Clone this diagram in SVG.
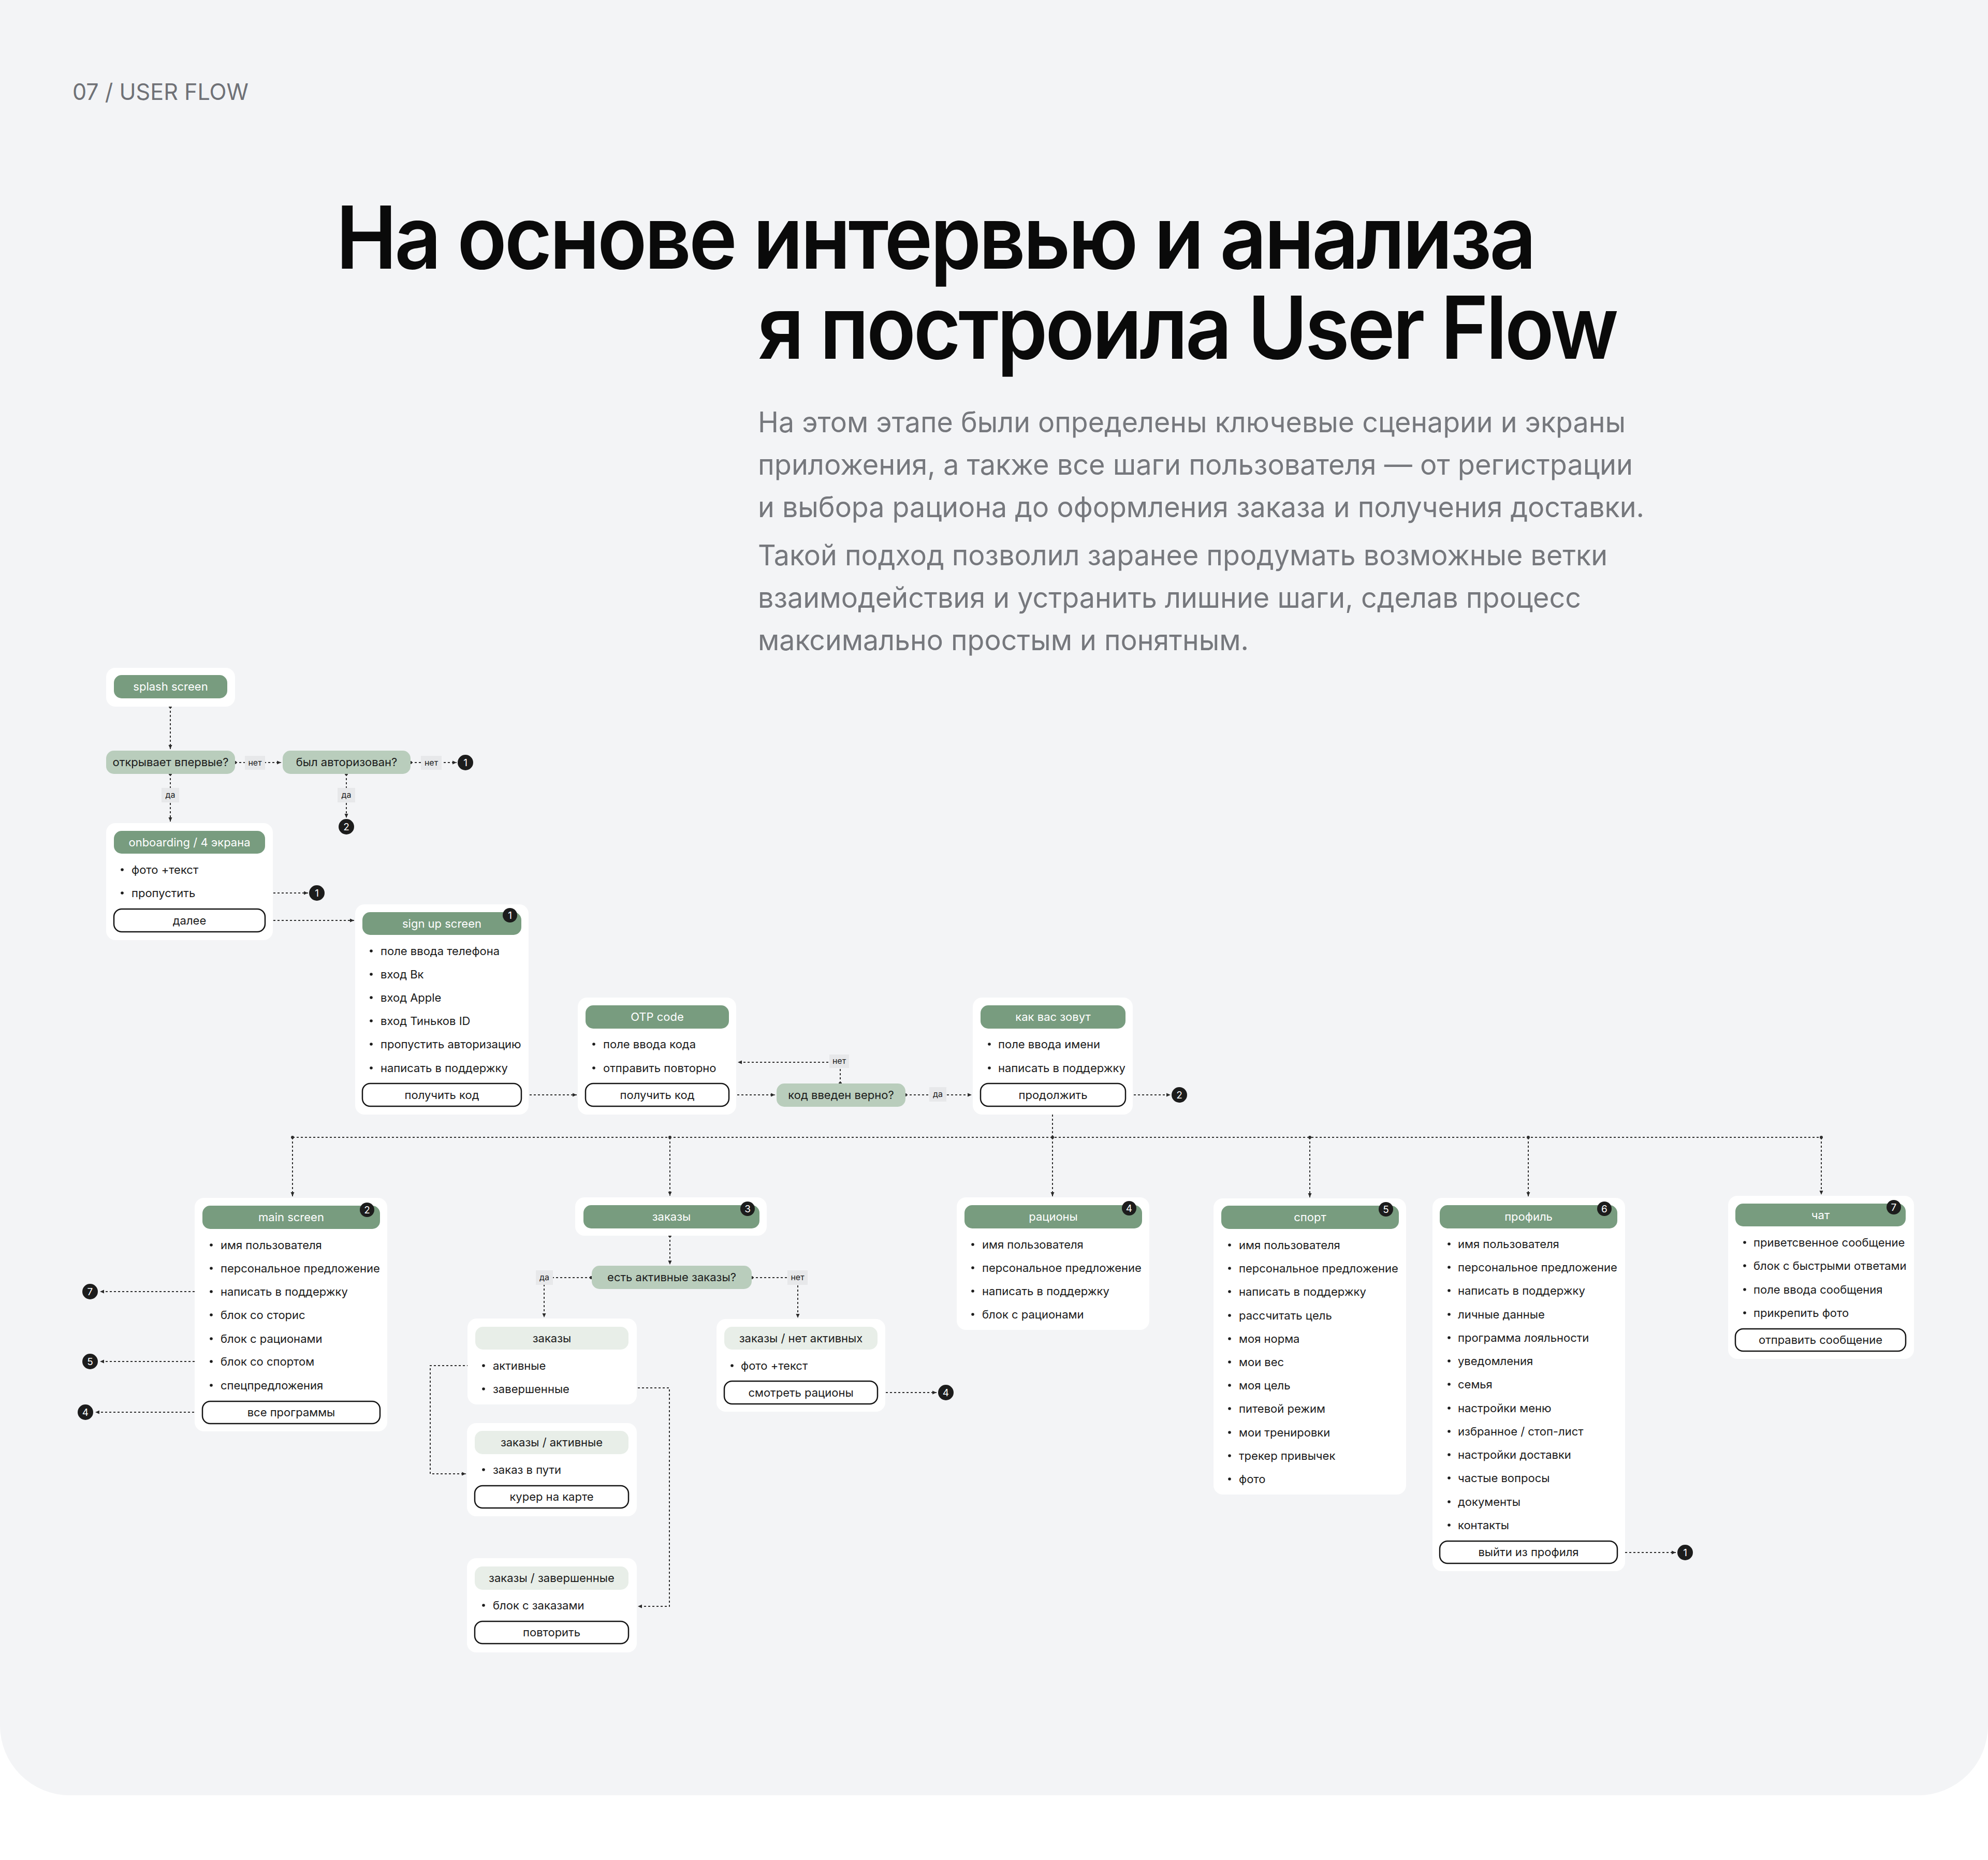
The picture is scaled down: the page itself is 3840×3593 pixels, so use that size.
<svg xmlns="http://www.w3.org/2000/svg" width="3840" height="3593" viewBox="0 0 3840 3593">
<defs>
<marker id="ah" viewBox="0 0 8 8" refX="8" refY="4" markerWidth="8" markerHeight="8" markerUnits="userSpaceOnUse" orient="auto"><path d="M0,0.5 L8,4 L0,7.5 z" fill="#2a2a2a"/></marker>
<style>
text{font-family:Inter,"Noto Sans","Liberation Sans",sans-serif}
.card{fill:#ffffff}
.pill{fill:#789c7f}
.dec{fill:#b9cdbc}
.lp{fill:#e8eee8}
.btn{fill:#ffffff;stroke:#151515;stroke-width:2.5}
.pt{fill:#ffffff;font-size:22px;text-anchor:middle}
.dt{fill:#1b1b1b;font-size:22px;text-anchor:middle}
.li{fill:#1b1b1b;font-size:22px}
.bu{fill:#1b1b1b}
.bd{fill:#1c1c1c}
.bn{fill:#ffffff;font-size:19px;text-anchor:middle}
.con{fill:none;stroke:#2e2e2e;stroke-width:2;stroke-dasharray:4 4}
.ar{marker-end:url(#ah)}
.dot{fill:#2e2e2e}
.lb{fill:#e7e8ea}
.lt{fill:#1b1b1b;font-size:16px;text-anchor:middle}
.ttl{font-size:168px;font-weight:600;fill:#0a0a0a;letter-spacing:-5px}
</style>
</defs>
<rect x="0" y="0" width="3840" height="3593" fill="#ffffff"/>
<path d="M0,0 H3840 V3333 A135,135 0 0 1 3705,3468 H135 A135,135 0 0 1 0,3333 Z" fill="#f3f4f6"/>

<g id="header">
<text x="140" y="193" font-size="44" fill="#6f7176" textLength="340" lengthAdjust="spacingAndGlyphs">07 / USER FLOW</text>
<text class="ttl" x="649" y="519" textLength="2314" lengthAdjust="spacingAndGlyphs">На основе интервью и анализа</text>
<text class="ttl" x="1464" y="693" textLength="1658" lengthAdjust="spacingAndGlyphs">я построила User Flow</text>
<g font-size="55" fill="#76787d">
<text x="1464" y="835" textLength="1676" lengthAdjust="spacingAndGlyphs">На этом этапе были определены ключевые сценарии и экраны</text>
<text x="1464" y="917" textLength="1690" lengthAdjust="spacingAndGlyphs">приложения, а также все шаги пользователя — от регистрации</text>
<text x="1464" y="999" textLength="1712" lengthAdjust="spacingAndGlyphs">и выбора рациона до оформления заказа и получения доставки.</text>
<text x="1464" y="1092" textLength="1641" lengthAdjust="spacingAndGlyphs">Такой подход позволил заранее продумать возможные ветки</text>
<text x="1464" y="1174" textLength="1590" lengthAdjust="spacingAndGlyphs">взаимодействия и устранить лишние шаги, сделав процесс</text>
<text x="1464" y="1256" textLength="948" lengthAdjust="spacingAndGlyphs">максимально простым и понятным.</text>
</g>
</g>

<g id="connectors">
<path class="con ar" d="M329,1365 V1447"/><circle class="dot" cx="329" cy="1365" r="3"/>
<path class="con ar" d="M454,1473 H543"/><circle class="dot" cx="454" cy="1473" r="3"/>
<path class="con ar" d="M793,1473 H882"/><circle class="dot" cx="793" cy="1473" r="3"/>
<path class="con ar" d="M329,1495 V1587"/><circle class="dot" cx="329" cy="1495" r="3"/>
<path class="con ar" d="M669,1495 V1580"/><circle class="dot" cx="669" cy="1495" r="3"/>
<path class="con ar" d="M384,1725 H595"/><circle class="dot" cx="384" cy="1725" r="3"/>
<path class="con ar" d="M512,1778 H684"/><circle class="dot" cx="512" cy="1778" r="3"/>
<path class="con ar" d="M1007,2115 H1114"/><circle class="dot" cx="1007" cy="2115" r="3"/>
<path class="con ar" d="M1408,2115 H1497"/><circle class="dot" cx="1408" cy="2115" r="3"/>
<path class="con ar" d="M1623,2093 V2052 H1425"/><circle class="dot" cx="1623" cy="2093" r="3"/>
<path class="con ar" d="M1749,2115 H1877"/><circle class="dot" cx="1749" cy="2115" r="3"/>
<path class="con ar" d="M2174,2115 H2261"/><circle class="dot" cx="2174" cy="2115" r="3"/>
<path class="con" d="M2033,2137 V2197"/><circle class="dot" cx="2033" cy="2137" r="3"/>
<path class="con" d="M565,2197 H3518"/>
<path class="con ar" d="M565,2197 V2311"/><circle class="dot" cx="565" cy="2197" r="3"/>
<path class="con ar" d="M1294,2197 V2310"/><circle class="dot" cx="1294" cy="2197" r="3"/>
<path class="con ar" d="M2033,2197 V2311"/><circle class="dot" cx="2033" cy="2197" r="3"/>
<path class="con ar" d="M2530,2197 V2313"/><circle class="dot" cx="2530" cy="2197" r="3"/>
<path class="con ar" d="M2952,2197 V2311"/><circle class="dot" cx="2952" cy="2197" r="3"/>
<path class="con ar" d="M3518,2197 V2308"/><circle class="dot" cx="3518" cy="2197" r="3"/>
<path class="con ar" d="M1294,2387 V2443"/><circle class="dot" cx="1294" cy="2387" r="3"/>
<path class="con ar" d="M1142,2468 H1051 V2545"/><circle class="dot" cx="1142" cy="2468" r="3"/>
<path class="con ar" d="M1452,2468 H1541 V2546"/><circle class="dot" cx="1452" cy="2468" r="3"/>
<path class="con ar" d="M922,2638 H831 V2847 H900"/><circle class="dot" cx="922" cy="2638" r="3"/>
<path class="con ar" d="M1200,2681 H1293 V3103 H1232"/><circle class="dot" cx="1200" cy="2681" r="3"/>
<path class="con ar" d="M1695,2690 H1809"/><circle class="dot" cx="1695" cy="2690" r="3"/>
<path class="con ar" d="M400,2495 H193"/><circle class="dot" cx="400" cy="2495" r="3"/>
<path class="con ar" d="M400,2630 H193"/><circle class="dot" cx="400" cy="2630" r="3"/>
<path class="con ar" d="M391,2728 H184"/><circle class="dot" cx="391" cy="2728" r="3"/>
<path class="con ar" d="M3123,2999 H3237"/><circle class="dot" cx="3123" cy="2999" r="3"/>
<g id="labels">
<rect class="lb" x="473" y="1460" width="39" height="27"/><text class="lt" x="492.5" y="1479">нет</text>
<rect class="lb" x="813" y="1460" width="40" height="27"/><text class="lt" x="833" y="1479">нет</text>
<rect class="lb" x="312" y="1522" width="34" height="28"/><text class="lt" x="329" y="1541">да</text>
<rect class="lb" x="652" y="1522" width="34" height="28"/><text class="lt" x="669" y="1541">да</text>
<rect class="lb" x="1602" y="2037" width="38" height="26"/><text class="lt" x="1621" y="2055">нет</text>
<rect class="lb" x="1795" y="2100" width="33" height="28"/><text class="lt" x="1811.5" y="2119">да</text>
<rect class="lb" x="1035" y="2454" width="33" height="28"/><text class="lt" x="1051.5" y="2473">да</text>
<rect class="lb" x="1521" y="2454" width="39" height="28"/><text class="lt" x="1540.5" y="2473">нет</text>
</g>
<g id="refs">
<circle class="bd" cx="899" cy="1473" r="15"/><text class="bn" x="899" y="1480">1</text>
<circle class="bd" cx="669" cy="1597" r="15"/><text class="bn" x="669" y="1604">2</text>
<circle class="bd" cx="612" cy="1725" r="15"/><text class="bn" x="612" y="1732">1</text>
<circle class="bd" cx="2278" cy="2115" r="15"/><text class="bn" x="2278" y="2122">2</text>
<circle class="bd" cx="174" cy="2495" r="15"/><text class="bn" x="174" y="2502">7</text>
<circle class="bd" cx="174" cy="2630" r="15"/><text class="bn" x="174" y="2637">5</text>
<circle class="bd" cx="165" cy="2728" r="15"/><text class="bn" x="165" y="2735">4</text>
<circle class="bd" cx="1827" cy="2690" r="15"/><text class="bn" x="1827" y="2697">4</text>
<circle class="bd" cx="3255" cy="2999" r="15"/><text class="bn" x="3255" y="3006">1</text>
</g>
</g>

<g id="splash">
<rect class="card" x="205" y="1290" width="249" height="75" rx="18"/>
<rect class="pill" x="220" y="1304" width="219" height="45" rx="15"/>
<text class="pt" x="329.5" y="1334">splash screen</text>
</g>
<g id="q-first">
<rect class="dec" x="205" y="1450" width="249" height="45" rx="15"/>
<text class="dt" x="329.5" y="1480">открывает впервые?</text>
</g>
<g id="q-auth">
<rect class="dec" x="546" y="1450" width="247" height="45" rx="15"/>
<text class="dt" x="669.5" y="1480">был авторизован?</text>
</g>

<g id="onboarding">
<rect class="card" x="205" y="1590" width="322" height="226" rx="18"/>
<rect class="pill" x="220" y="1605" width="292" height="44" rx="15"/>
<text class="pt" x="366" y="1635">onboarding / 4 экрана</text>
<circle class="bu" cx="236" cy="1680" r="2.8"/><text class="li" x="254" y="1688">фото +текст</text>
<circle class="bu" cx="236" cy="1725" r="2.8"/><text class="li" x="254" y="1733">пропустить</text>
<rect class="btn" x="220" y="1756" width="292" height="44" rx="15"/>
<text class="dt" x="366" y="1786">далее</text>
</g>

<g id="signup">
<rect class="card" x="686" y="1747" width="335" height="406" rx="18"/>
<rect class="pill" x="700" y="1762" width="307" height="44" rx="15"/>
<text class="pt" x="853.5" y="1792">sign up screen</text>
<circle class="bd" cx="985" cy="1768" r="14"/><text class="bn" x="985" y="1775">1</text>
<circle class="bu" cx="717" cy="1837" r="2.8"/><text class="li" x="735" y="1845">поле ввода телефона</text>
<circle class="bu" cx="717" cy="1882" r="2.8"/><text class="li" x="735" y="1890">вход Вк</text>
<circle class="bu" cx="717" cy="1927" r="2.8"/><text class="li" x="735" y="1935">вход Apple</text>
<circle class="bu" cx="717" cy="1972" r="2.8"/><text class="li" x="735" y="1980">вход Тиньков ID</text>
<circle class="bu" cx="717" cy="2017" r="2.8"/><text class="li" x="735" y="2025">пропустить авторизацию</text>
<circle class="bu" cx="717" cy="2063" r="2.8"/><text class="li" x="735" y="2071">написать в поддержку</text>
<rect class="btn" x="700" y="2093" width="307" height="44" rx="15"/>
<text class="dt" x="853.5" y="2123">получить код</text>
</g>

<g id="otp">
<rect class="card" x="1116" y="1927" width="306" height="226" rx="18"/>
<rect class="pill" x="1131" y="1942" width="277" height="45" rx="15"/>
<text class="pt" x="1269.5" y="1972">OTP code</text>
<circle class="bu" cx="1147" cy="2017" r="2.8"/><text class="li" x="1165" y="2025">поле ввода кода</text>
<circle class="bu" cx="1147" cy="2063" r="2.8"/><text class="li" x="1165" y="2071">отправить повторно</text>
<rect class="btn" x="1131" y="2093" width="277" height="44" rx="15"/>
<text class="dt" x="1269.5" y="2123">получить код</text>
</g>

<g id="q-code">
<rect class="dec" x="1500" y="2093" width="249" height="45" rx="15"/>
<text class="dt" x="1624.5" y="2123">код введен верно?</text>
</g>

<g id="name">
<rect class="card" x="1879" y="1927" width="309" height="226" rx="18"/>
<rect class="pill" x="1894" y="1942" width="280" height="45" rx="15"/>
<text class="pt" x="2034" y="1972">как вас зовут</text>
<circle class="bu" cx="1911" cy="2017" r="2.8"/><text class="li" x="1928" y="2025">поле ввода имени</text>
<circle class="bu" cx="1911" cy="2063" r="2.8"/><text class="li" x="1928" y="2071">написать в поддержку</text>
<rect class="btn" x="1894" y="2093" width="280" height="44" rx="15"/>
<text class="dt" x="2034" y="2123">продолжить</text>
</g>

<g id="main-screen">
<rect class="card" x="376" y="2314" width="372" height="451" rx="18"/>
<rect class="pill" x="391" y="2329" width="343" height="45" rx="15"/>
<text class="pt" x="562.5" y="2359">main screen</text>
<circle class="bd" cx="709" cy="2337" r="14"/><text class="bn" x="709" y="2344">2</text>
<circle class="bu" cx="408" cy="2405" r="2.8"/><text class="li" x="426" y="2413">имя пользователя</text>
<circle class="bu" cx="408" cy="2450" r="2.8"/><text class="li" x="426" y="2458">персональное предложение</text>
<circle class="bu" cx="408" cy="2495" r="2.8"/><text class="li" x="426" y="2503">написать в поддержку</text>
<circle class="bu" cx="408" cy="2540" r="2.8"/><text class="li" x="426" y="2548">блок со сторис</text>
<circle class="bu" cx="408" cy="2586" r="2.8"/><text class="li" x="426" y="2594">блок с рационами</text>
<circle class="bu" cx="408" cy="2630" r="2.8"/><text class="li" x="426" y="2638">блок со спортом</text>
<circle class="bu" cx="408" cy="2676" r="2.8"/><text class="li" x="426" y="2684">спецпредложения</text>
<rect class="btn" x="391" y="2707" width="343" height="43" rx="15"/>
<text class="dt" x="562.5" y="2736">все программы</text>
</g>

<g id="orders">
<rect class="card" x="1111" y="2313" width="370" height="74" rx="18"/>
<rect class="pill" x="1127" y="2328" width="340" height="45" rx="15"/>
<text class="pt" x="1297" y="2358">заказы</text>
<circle class="bd" cx="1444" cy="2335" r="14"/><text class="bn" x="1444" y="2342">3</text>
</g>
<g id="q-active">
<rect class="dec" x="1143" y="2445" width="309" height="45" rx="15"/>
<text class="dt" x="1297.5" y="2475">есть активные заказы?</text>
</g>
<g id="orders-list">
<rect class="card" x="903" y="2547" width="327" height="166" rx="18"/>
<rect class="lp" x="918" y="2563" width="296" height="44" rx="15"/>
<text class="dt" x="1066" y="2593">заказы</text>
<circle class="bu" cx="934" cy="2638" r="2.8"/><text class="li" x="952" y="2646">активные</text>
<circle class="bu" cx="934" cy="2683" r="2.8"/><text class="li" x="952" y="2691">завершенные</text>
</g>
<g id="orders-none">
<rect class="card" x="1384" y="2548" width="326" height="179" rx="18"/>
<rect class="lp" x="1399" y="2563" width="296" height="44" rx="15"/>
<text class="dt" x="1547" y="2593">заказы / нет активных</text>
<circle class="bu" cx="1414" cy="2638" r="2.8"/><text class="li" x="1431" y="2646">фото +текст</text>
<rect class="btn" x="1399" y="2668" width="296" height="44" rx="15"/>
<text class="dt" x="1547" y="2698">смотреть рационы</text>
</g>
<g id="orders-active">
<rect class="card" x="902" y="2749" width="328" height="180" rx="18"/>
<rect class="lp" x="917" y="2764" width="297" height="45" rx="15"/>
<text class="dt" x="1065.5" y="2794">заказы / активные</text>
<circle class="bu" cx="934" cy="2839" r="2.8"/><text class="li" x="952" y="2847">заказ в пути</text>
<rect class="btn" x="917" y="2870" width="297" height="43" rx="15"/>
<text class="dt" x="1065.5" y="2899">курер на карте</text>
</g>
<g id="orders-done">
<rect class="card" x="902" y="3010" width="328" height="182" rx="18"/>
<rect class="lp" x="917" y="3026" width="297" height="45" rx="15"/>
<text class="dt" x="1065.5" y="3056">заказы / завершенные</text>
<circle class="bu" cx="934" cy="3101" r="2.8"/><text class="li" x="952" y="3109">блок с заказами</text>
<rect class="btn" x="917" y="3132" width="297" height="43" rx="15"/>
<text class="dt" x="1065.5" y="3161">повторить</text>
</g>

<g id="rations">
<rect class="card" x="1848" y="2313" width="372" height="256" rx="18"/>
<rect class="pill" x="1863" y="2328" width="343" height="45" rx="15"/>
<text class="pt" x="2034.5" y="2358">рационы</text>
<circle class="bd" cx="2181" cy="2334" r="14"/><text class="bn" x="2181" y="2341">4</text>
<circle class="bu" cx="1879" cy="2404" r="2.8"/><text class="li" x="1897" y="2412">имя пользователя</text>
<circle class="bu" cx="1879" cy="2449" r="2.8"/><text class="li" x="1897" y="2457">персональное предложение</text>
<circle class="bu" cx="1879" cy="2494" r="2.8"/><text class="li" x="1897" y="2502">написать в поддержку</text>
<circle class="bu" cx="1879" cy="2539" r="2.8"/><text class="li" x="1897" y="2547">блок с рационами</text>
</g>

<g id="sport">
<rect class="card" x="2344" y="2315" width="372" height="572" rx="18"/>
<rect class="pill" x="2359" y="2329" width="343" height="45" rx="15"/>
<text class="pt" x="2530.5" y="2359">спорт</text>
<circle class="bd" cx="2677" cy="2336" r="14"/><text class="bn" x="2677" y="2343">5</text>
<circle class="bu" cx="2375" cy="2405" r="2.8"/><text class="li" x="2393" y="2413">имя пользователя</text>
<circle class="bu" cx="2375" cy="2450" r="2.8"/><text class="li" x="2393" y="2458">персональное предложение</text>
<circle class="bu" cx="2375" cy="2495" r="2.8"/><text class="li" x="2393" y="2503">написать в поддержку</text>
<circle class="bu" cx="2375" cy="2541" r="2.8"/><text class="li" x="2393" y="2549">рассчитать цель</text>
<circle class="bu" cx="2375" cy="2586" r="2.8"/><text class="li" x="2393" y="2594">моя норма</text>
<circle class="bu" cx="2375" cy="2631" r="2.8"/><text class="li" x="2393" y="2639">мои вес</text>
<circle class="bu" cx="2375" cy="2676" r="2.8"/><text class="li" x="2393" y="2684">моя цель</text>
<circle class="bu" cx="2375" cy="2721" r="2.8"/><text class="li" x="2393" y="2729">питевой режим</text>
<circle class="bu" cx="2375" cy="2767" r="2.8"/><text class="li" x="2393" y="2775">мои тренировки</text>
<circle class="bu" cx="2375" cy="2812" r="2.8"/><text class="li" x="2393" y="2820">трекер привычек</text>
<circle class="bu" cx="2375" cy="2857" r="2.8"/><text class="li" x="2393" y="2865">фото</text>
</g>

<g id="profile">
<rect class="card" x="2767" y="2314" width="372" height="721" rx="18"/>
<rect class="pill" x="2781" y="2328" width="343" height="45" rx="15"/>
<text class="pt" x="2952.5" y="2358">профиль</text>
<circle class="bd" cx="3099" cy="2335" r="14"/><text class="bn" x="3099" y="2342">6</text>
<circle class="bu" cx="2799" cy="2403" r="2.8"/><text class="li" x="2816" y="2411">имя пользователя</text>
<circle class="bu" cx="2799" cy="2448" r="2.8"/><text class="li" x="2816" y="2456">персональное предложение</text>
<circle class="bu" cx="2799" cy="2493" r="2.8"/><text class="li" x="2816" y="2501">написать в поддержку</text>
<circle class="bu" cx="2799" cy="2539" r="2.8"/><text class="li" x="2816" y="2547">личные данные</text>
<circle class="bu" cx="2799" cy="2584" r="2.8"/><text class="li" x="2816" y="2592">программа лояльности</text>
<circle class="bu" cx="2799" cy="2629" r="2.8"/><text class="li" x="2816" y="2637">уведомления</text>
<circle class="bu" cx="2799" cy="2674" r="2.8"/><text class="li" x="2816" y="2682">семья</text>
<circle class="bu" cx="2799" cy="2720" r="2.8"/><text class="li" x="2816" y="2728">настройки меню</text>
<circle class="bu" cx="2799" cy="2765" r="2.8"/><text class="li" x="2816" y="2773">избранное / стоп-лист</text>
<circle class="bu" cx="2799" cy="2810" r="2.8"/><text class="li" x="2816" y="2818">настройки доставки</text>
<circle class="bu" cx="2799" cy="2855" r="2.8"/><text class="li" x="2816" y="2863">частые вопросы</text>
<circle class="bu" cx="2799" cy="2901" r="2.8"/><text class="li" x="2816" y="2909">документы</text>
<circle class="bu" cx="2799" cy="2946" r="2.8"/><text class="li" x="2816" y="2954">контакты</text>
<rect class="btn" x="2781" y="2977" width="343" height="43" rx="15"/>
<text class="dt" x="2952.5" y="3006">выйти из профиля</text>
</g>

<g id="chat">
<rect class="card" x="3338" y="2310" width="359" height="315" rx="18"/>
<rect class="pill" x="3352" y="2325" width="329" height="44" rx="15"/>
<text class="pt" x="3516.5" y="2355">чат</text>
<circle class="bd" cx="3658" cy="2332" r="14"/><text class="bn" x="3658" y="2339">7</text>
<circle class="bu" cx="3370" cy="2400" r="2.8"/><text class="li" x="3387" y="2408">приветсвенное сообщение</text>
<circle class="bu" cx="3370" cy="2445" r="2.8"/><text class="li" x="3387" y="2453">блок с быстрыми ответами</text>
<circle class="bu" cx="3370" cy="2491" r="2.8"/><text class="li" x="3387" y="2499">поле ввода сообщения</text>
<circle class="bu" cx="3370" cy="2536" r="2.8"/><text class="li" x="3387" y="2544">прикрепить фото</text>
<rect class="btn" x="3352" y="2567" width="329" height="43" rx="15"/>
<text class="dt" x="3516.5" y="2596">отправить сообщение</text>
</g>
</svg>
